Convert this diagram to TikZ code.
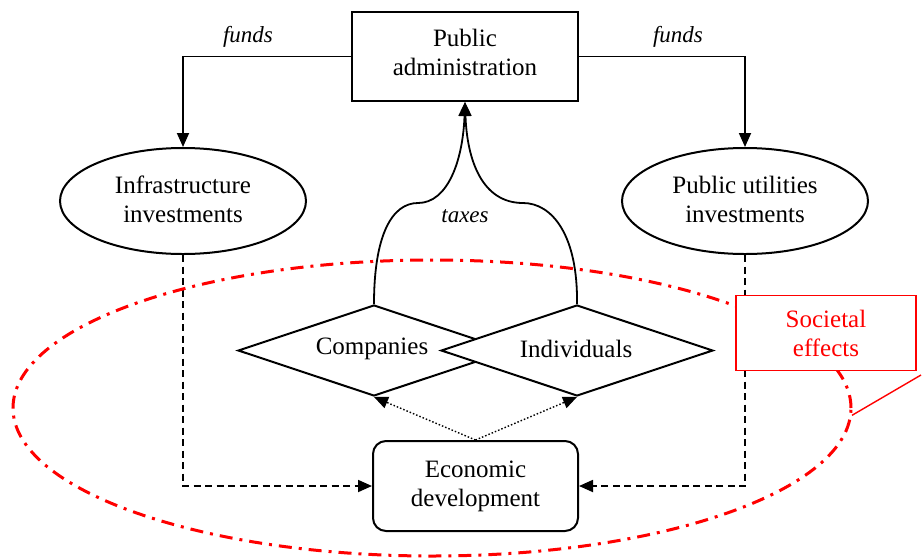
\documentclass[tikz,border=0pt]{standalone}
\usepackage{fontspec}
\setmainfont{Liberation Serif}
\usetikzlibrary{shapes.geometric,arrows.meta}
\begin{document}
\begin{tikzpicture}[x=1pt,y=-1pt,
  txt/.style={font=\fontsize{25}{29}\selectfont, align=center, inner sep=0pt},
  blk/.style={draw=black, line width=2pt, fill=white},
  conn/.style={line width=1.8pt},
  arr/.style={-{Triangle[length=14pt,width=12pt]}},
  lbl/.style={font=\fontsize{23}{26}\selectfont\itshape, inner sep=0pt},
  dashline/.style={conn, dash pattern=on 7pt off 4.5pt},
  dotline/.style={line width=1.4pt, dash pattern=on 1.5pt off 2pt},
  effect/.style={draw=red, line width=3pt, dash pattern=on 13pt off 7pt on 3pt off 7pt},
]
\useasboundingbox (0,0) rectangle (922,558);

% nodes
\node[blk, rectangle, minimum width=226pt, minimum height=89pt] (pa) at (465,56.5) {};
\node[txt] (pat) at (465,52) {Public\\administration};
\node[blk, ellipse, minimum width=246pt, minimum height=106pt] (inf) at (183,201) {};
\node[txt] (inft) at (183,199) {Infrastructure\\investments};
\node[blk, ellipse, minimum width=246pt, minimum height=106pt] (pub) at (745,201) {};
\node[txt] (pubt) at (745,199) {Public utilities\\investments};
\node[blk, txt, rounded corners=13pt, rectangle, minimum width=205pt, minimum height=90pt] (eco) at (475.5,486) {Economic\\development};

% funds
\draw[conn, arr] (pa.west) -| (inf.north);
\draw[conn, arr] (pa.east) -| (pub.north);
\node[lbl] (f1) at (248,37) {funds};
\node[lbl] (f2) at (678,37) {funds};

% diamonds
\node[blk, diamond, minimum width=272pt, minimum height=91pt, inner sep=0pt] (comp) at (374,350.5) {};
\node[blk, diamond, minimum width=272pt, minimum height=91pt, inner sep=0pt] (ind) at (577,350.5) {};
\node[txt] (compt) at (372,349) {Companies};
\node[txt] (indt) at (576,349) {Individuals};

% taxes
\draw[conn, arr] (comp.north) .. controls (374,235) and (392,203) .. (418,203)
   .. controls (448,203) and (463,160) .. (pa.south);
\draw[conn, arr] (ind.north) .. controls (578,235) and (552,203) .. (523,203)
   .. controls (482,203) and (467,160) .. (pa.south);
\node[lbl] (tx) at (465,216) {taxes};

% dashed to economic development
\draw[dashline, arr] (inf.south) |- (eco.west);
\draw[dashline, arr] (pub.south) |- (eco.east);

% dotted
\draw[dotline, arr] (eco.north) -- (comp.south);
\draw[dotline, arr] (eco.north) -- (ind.south);

% societal effects
\node[effect, ellipse, minimum width=838pt, minimum height=296pt, inner sep=0pt] (soc) at (432,408) {};
\node[draw=red, line width=1.8pt, fill=white, txt, text=red, minimum width=180pt, minimum height=75pt] (se) at (826,333) {Societal\\effects};
\coordinate (ctip) at (921,375);
\draw[red, line width=1.4pt] (ctip) -- (soc.-1.5);
\end{tikzpicture}
\end{document}
